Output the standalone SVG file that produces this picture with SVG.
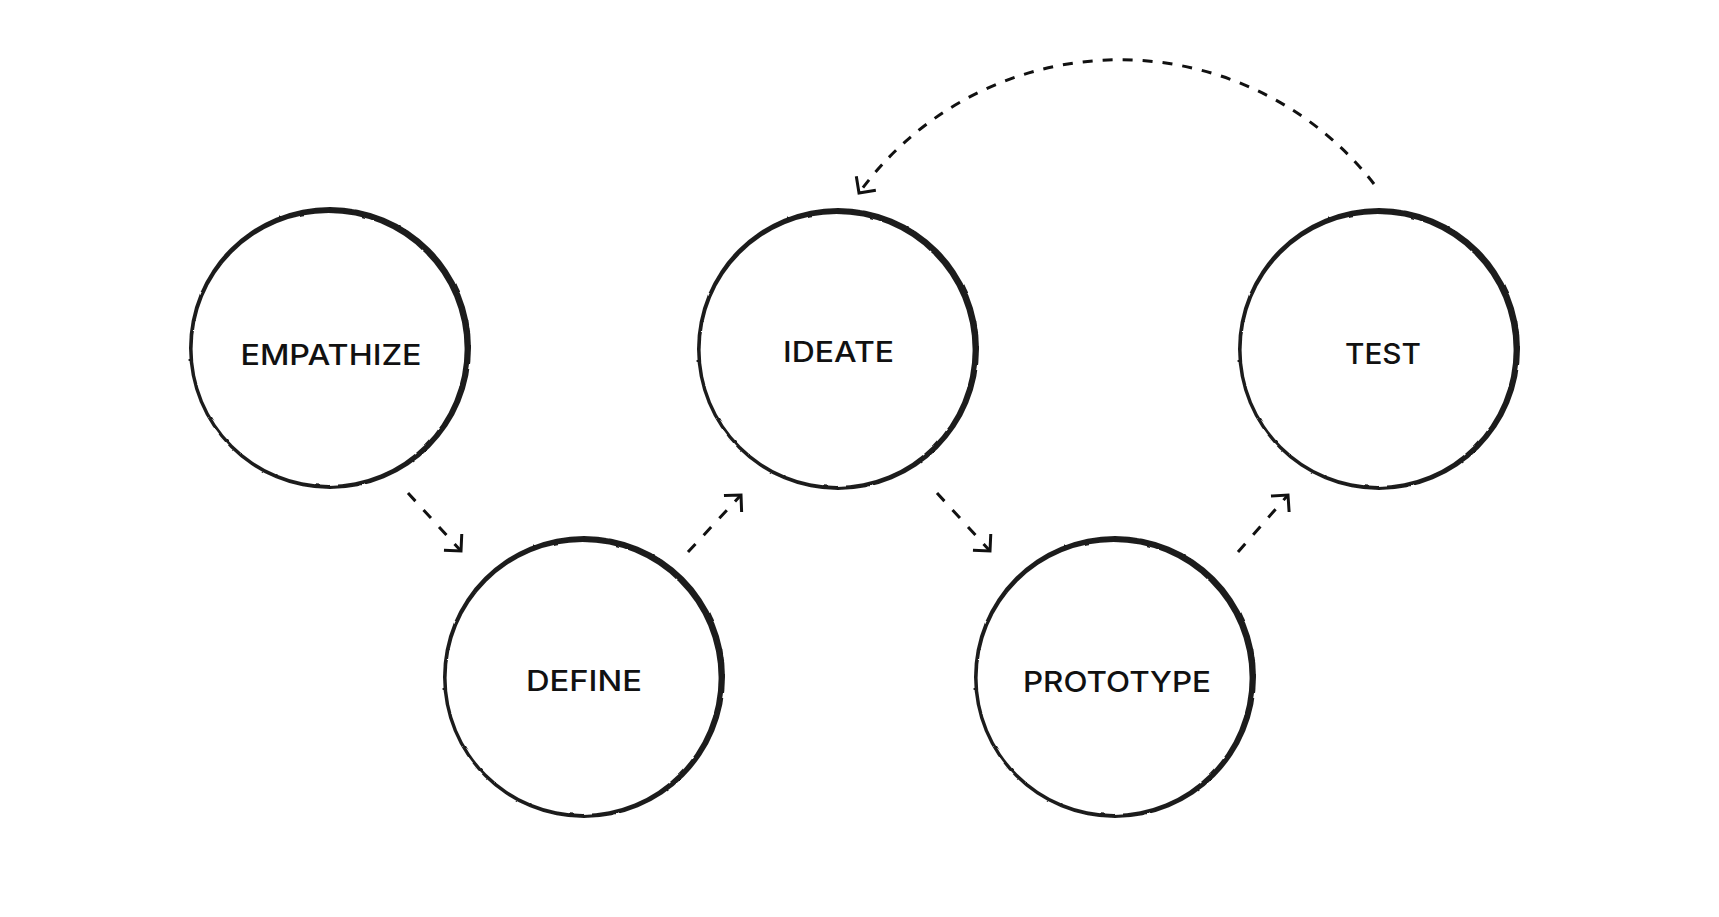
<svg xmlns="http://www.w3.org/2000/svg" xmlns:xlink="http://www.w3.org/1999/xlink" width="1719" height="917" viewBox="0 0 1719 917">
  <style>
    .ring { fill: #1e1e1e; fill-rule: evenodd; filter: url(#rough); }
    .label { font-family: "Inter", "Liberation Sans", sans-serif; font-size: 28.5px; font-weight: 500; fill: #111; text-anchor: middle; }
    .conn { fill: none; stroke: #111; stroke-width: 3; stroke-dasharray: 11 12; marker-end: url(#head); }
    .arc { stroke-dasharray: 10 10; }
  </style>
  <defs>
    <filter id="rough" x="-10%" y="-10%" width="120%" height="120%">
      <feTurbulence type="fractalNoise" baseFrequency="0.09" numOctaves="2" seed="3" result="noise"/>
      <feDisplacementMap in="SourceGraphic" in2="noise" scale="2" xChannelSelector="R" yChannelSelector="G"/>
    </filter>
    <marker id="head" markerUnits="userSpaceOnUse" markerWidth="30" markerHeight="30" refX="0" refY="0" orient="auto" overflow="visible">
      <path d="M-11,-11 L0,0 L-11,11" fill="none" stroke="#111" stroke-width="3" stroke-linecap="square"/>
    </marker>
    <path id="ringShape" d="M141,0 A141,141 0 1 0 -141,0 A141,141 0 1 0 141,0 Z M134.6,0.9 A136,136 0 1 0 -137.4,0.9 A136,136 0 1 0 134.6,0.9 Z"/>
  </defs>
  <rect width="1719" height="917" fill="#fff"/>

  <g id="connectors">
    <path class="conn" d="M408,493 L461,551"/>
    <path class="conn" d="M688,552 L741,495"/>
    <path class="conn" d="M937,493 L990,551"/>
    <path class="conn" d="M1238,552 L1288,495"/>
    <path class="conn arc" d="M1374,184 A322,322 0 0 0 859,193"/>
  </g>

  <g id="empathize">
    <use href="#ringShape" xlink:href="#ringShape" class="ring" x="330" y="348"/>
    <text class="label" x="331" y="365" textLength="181" lengthAdjust="spacingAndGlyphs">EMPATHIZE</text>
  </g>
  <g id="define">
    <use href="#ringShape" xlink:href="#ringShape" class="ring" x="584" y="677"/>
    <text class="label" x="584" y="691" textLength="116" lengthAdjust="spacingAndGlyphs">DEFINE</text>
  </g>
  <g id="ideate">
    <use href="#ringShape" xlink:href="#ringShape" class="ring" x="838" y="349"/>
    <text class="label" x="838.5" y="362" textLength="111" lengthAdjust="spacingAndGlyphs">IDEATE</text>
  </g>
  <g id="prototype">
    <use href="#ringShape" xlink:href="#ringShape" class="ring" x="1115" y="677"/>
    <text class="label" x="1117" y="692" textLength="188" lengthAdjust="spacingAndGlyphs">PROTOTYPE</text>
  </g>
  <g id="test">
    <use href="#ringShape" xlink:href="#ringShape" class="ring" x="1379" y="349"/>
    <text class="label" x="1383" y="364" textLength="76" lengthAdjust="spacingAndGlyphs">TEST</text>
  </g>
</svg>
